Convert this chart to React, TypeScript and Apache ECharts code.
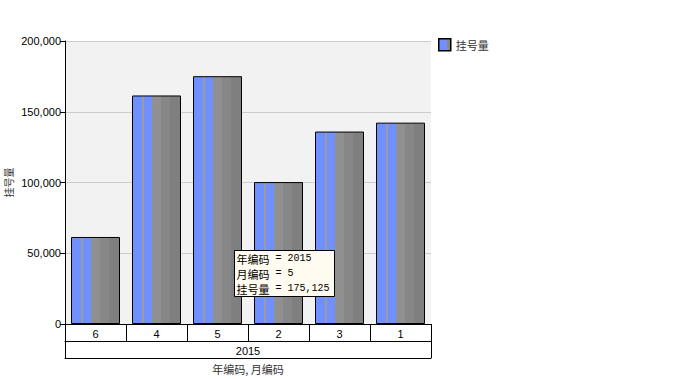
import React, { useEffect, useRef } from "react";
import * as echarts from "echarts";

const monthCodes = ["6", "4", "5", "2", "3", "1"];
const yearCodes = ["2015"];
const volumes = [61500, 161500, 175125, 100300, 136000, 142300];
const yTicks = { min: 0, max: 200000, interval: 50000 };
const seriesName = "挂号量";
const tooltipKeys = ["年编码", "月编码", "挂号量"];
const tooltipValues = ["2015", "5", "175,125"];

const BLUE = "#7090ff";
const barFill = new echarts.graphic.LinearGradient(0, 0, 1, 0, [
  { offset: 0, color: BLUE },
  { offset: 0.2, color: BLUE },
  { offset: 0.2, color: "#9c9c9c" },
  { offset: 0.24, color: "#9c9c9c" },
  { offset: 0.24, color: BLUE },
  { offset: 0.4, color: BLUE },
  { offset: 0.4, color: "#909090" },
  { offset: 0.6, color: "#909090" },
  { offset: 0.6, color: "#878787" },
  { offset: 0.78, color: "#878787" },
  { offset: 0.78, color: "#7f7f7f" },
  { offset: 1, color: "#7f7f7f" },
]);
const legendFill = new echarts.graphic.LinearGradient(0, 0, 1, 0, [
  { offset: 0, color: BLUE },
  { offset: 0.65, color: BLUE },
  { offset: 0.65, color: "#909090" },
  { offset: 1, color: "#808080" },
]);

const FONT = "'Liberation Sans', Arial, sans-serif";
const CJK = "'Noto Sans CJK SC', sans-serif";
const MONO = "'Liberation Mono', 'DejaVu Sans Mono', monospace";

export default function App() {
  const ref = useRef<HTMLDivElement>(null);
  useEffect(() => {
    if (!ref.current) return;
    const chart = echarts.init(ref.current, undefined, { renderer: "svg" });
    const black = { color: "#000", width: 1 };
    chart.setOption({
      animation: false,
      textStyle: { fontFamily: FONT },
      grid: {
        left: 65,
        right: 261,
        top: 41,
        bottom: 55,
        show: true,
        backgroundColor: "#f2f2f2",
        borderWidth: 0,
        containLabel: false,
        outerBoundsMode: "none",
      },
      legend: {
        left: 438,
        top: 38,
        padding: 0,
        icon: "rect",
        itemWidth: 12,
        itemHeight: 12,
        textStyle: { fontSize: 11, color: "#333", fontFamily: CJK },
        data: [
          {
            name: seriesName,
            itemStyle: { color: legendFill, borderColor: "#000", borderWidth: 1.5 },
          },
        ],
      },
      xAxis: [
        {
          type: "category",
          data: monthCodes,
          position: "bottom",
          axisLine: { show: true, lineStyle: black },
          axisTick: { show: true, interval: 0, length: 17, lineStyle: black },
          axisLabel: { interval: 0, margin: 4, fontSize: 11, color: "#000" },
          splitLine: { show: false },
        },
        {
          type: "category",
          data: yearCodes,
          position: "bottom",
          offset: 17,
          axisLine: { show: true, lineStyle: black },
          axisTick: { show: true, interval: 0, length: 17, lineStyle: black },
          axisLabel: { interval: 0, margin: 4, fontSize: 11, color: "#000" },
          splitLine: { show: false },
        },
        {
          type: "category",
          data: [""],
          position: "bottom",
          offset: 34,
          axisLine: { show: true, lineStyle: black },
          axisTick: { show: false },
          axisLabel: { show: false },
          splitLine: { show: false },
          name: "年编码, 月编码",
          nameLocation: "middle",
          nameGap: 5,
          nameMoveOverlap: false,
          nameTextStyle: {
            fontSize: 11,
            color: "#333",
            fontFamily: CJK,
            verticalAlign: "top",
          },
        },
      ],
      yAxis: {
        type: "value",
        min: yTicks.min,
        max: yTicks.max,
        interval: yTicks.interval,
        axisLine: { show: true, lineStyle: black },
        axisTick: { show: true, length: 5, lineStyle: black },
        axisLabel: {
          fontSize: 11,
          color: "#000",
          margin: 4,
          formatter: (v: number) => v.toLocaleString("en-US"),
        },
        splitLine: { show: true, lineStyle: { color: "#cccccc", width: 1 } },
        name: seriesName,
        nameLocation: "middle",
        nameGap: 52,
        nameMoveOverlap: false,
        nameTextStyle: { fontSize: 10, color: "#333", fontFamily: CJK },
      },
      series: [
        {
          type: "bar",
          name: seriesName,
          xAxisIndex: 0,
          data: volumes,
          barWidth: 49,
          itemStyle: { color: barFill, borderColor: "#000", borderWidth: 1 },
          emphasis: { disabled: true },
        },
      ],
      graphic: [
        {
          type: "group",
          left: 234,
          top: 250,
          z: 100,
          children: [
            {
              type: "rect",
              z: 100,
              shape: { x: 0, y: 0, width: 100, height: 46 },
              style: { fill: "#fffbf0", stroke: "#000", lineWidth: 1 },
            },
            ...tooltipKeys.map((k, i) => ({
              type: "text",
              z: 101,
              x: 2,
              y: 1 + i * 15,
              style: {
                text: `{k|${k}}{v| = ${tooltipValues[i]}}`,
                fill: "#000",
                textVerticalAlign: "top",
                rich: {
                  k: { fontSize: 11, fontFamily: CJK, lineHeight: 14, fill: "#000", color: "#000" },
                  v: { fontSize: 10, fontFamily: MONO, lineHeight: 14, fill: "#000", color: "#000" },
                },
              },
            })),
          ],
        },
      ],
    });
    return () => chart.dispose();
  }, []);
  return <div ref={ref} style={{ width: 692, height: 379, position: "absolute", left: 0, top: 0 }} />;
}
